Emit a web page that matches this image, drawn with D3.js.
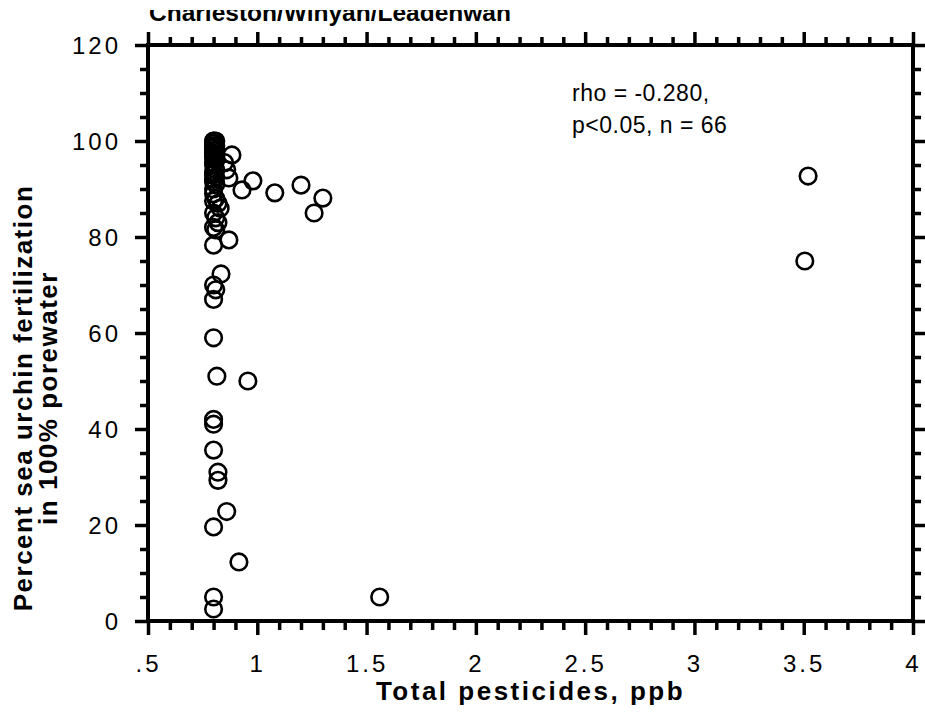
<!DOCTYPE html>
<html>
<head>
<meta charset="utf-8">
<script src="https://cdn.jsdelivr.net/npm/d3@7"></script>
<style>
  body { margin: 0; background: #fff; }
  svg text { font-family: "Liberation Sans", Arial, sans-serif; fill: #000; }
</style>
</head>
<body>
<div id="chart"></div>
<script>
// total pesticides (ppb) and percent fertilization, one entry per station
const pesticides = [
  0.80, 0.80, 0.81, 0.80, 0.81, 0.80, 0.80, 0.81, 0.80, 0.80,
  0.81, 0.80, 0.80, 0.81, 0.80, 0.80, 0.81, 0.80, 0.80, 0.81,
  0.80, 0.80, 0.81, 0.80, 0.80, 0.81, 0.80, 0.80, 0.81, 0.80,
  0.81, 0.80, 0.80, 0.81, 0.80, 0.80, 0.80, 0.80, 0.80, 0.80,
  0.80, 0.80, 0.884, 0.85, 0.86, 0.87, 0.98, 0.93, 1.08, 1.20,
  1.30, 1.26, 0.87, 0.83, 0.82, 0.834, 0.815, 0.957, 0.82, 0.82,
  0.86, 0.916, 1.56, 3.52, 3.505, 0.82
];
const fertilization = [
  100, 100, 100, 99.5, 99, 99, 98.5, 98, 98, 97.5,
  97, 97, 96.5, 96, 95.5, 95, 94, 93.5, 93, 92.5,
  92, 91.5, 91, 90, 89, 88, 87.5, 85, 84, 82,
  81.5, 78.3, 70, 69, 67, 59, 42, 41, 35.6, 19.6,
  5, 2.5, 97.1, 95.5, 94, 92.3, 91.7, 89.8, 89.2, 90.8,
  88.1, 85, 79.4, 86, 83, 72.3, 51, 50, 31, 29.3,
  22.8, 12.3, 5, 92.7, 75, 87
];

const xMajor = [0.5, 1, 1.5, 2, 2.5, 3, 3.5, 4];
const xTickLabels = [".5", "1", "1.5", "2", "2.5", "3", "3.5", "4"];
const yMajor = [0, 20, 40, 60, 80, 100, 120];
const yTickLabels = ["0", "20", "40", "60", "80", "100", "120"];

const title = "Charleston/Winyah/Leadenwah";
const xTitle = "Total pesticides, ppb";
const yTitle = ["Percent sea urchin fertilization", "in 100% porewater"];
const note = ["rho = -0.280,", "p<0.05, n = 66"];

const width = 925, height = 715;
const margin = { top: 45, right: 12, bottom: 94, left: 148 };
const plotW = width - margin.left - margin.right;
const plotH = height - margin.top - margin.bottom;

const svg = d3.select("#chart").append("svg")
  .attr("width", width)
  .attr("height", height);

const x = d3.scaleLinear().domain([0.5, 4]).range([margin.left, margin.left + plotW]);
const y = d3.scaleLinear().domain([0, 120]).range([margin.top + plotH, margin.top]);

const xMinor = d3.range(5, 41).map(d => d / 10).filter(d => !xMajor.some(m => Math.abs(m - d) < 1e-9));
const yMinor = d3.range(0, 121, 5).filter(d => d % 20 !== 0);

// ticks on all four sides, pointing outwards
function tickGroup(axis, transform) {
  const g = svg.append("g").attr("transform", transform).call(axis);
  g.select(".domain").remove();
  g.selectAll(".tick line").attr("stroke", "#000").attr("stroke-width", 3.5);
  return g;
}

tickGroup(d3.axisBottom(x).tickValues(xMinor).tickSize(9).tickFormat(""), `translate(0,${y(0)})`);
tickGroup(d3.axisTop(x).tickValues(xMinor).tickSize(8).tickFormat(""), `translate(0,${y(120)})`);
tickGroup(d3.axisLeft(y).tickValues(yMinor).tickSize(8).tickFormat(""), `translate(${x(0.5)},0)`);
tickGroup(d3.axisRight(y).tickValues(yMinor).tickSize(8).tickFormat(""), `translate(${x(4)},0)`);

const gx = tickGroup(d3.axisBottom(x).tickValues(xMajor).tickSize(14).tickPadding(20)
  .tickFormat((d, i) => xTickLabels[i]), `translate(0,${y(0)})`);
tickGroup(d3.axisTop(x).tickValues(xMajor).tickSize(13).tickFormat(""), `translate(0,${y(120)})`);
const gy = tickGroup(d3.axisLeft(y).tickValues(yMajor).tickSize(13).tickPadding(14)
  .tickFormat((d, i) => yTickLabels[i]), `translate(${x(0.5)},0)`);
tickGroup(d3.axisRight(y).tickValues(yMajor).tickSize(13).tickFormat(""), `translate(${x(4)},0)`);

[gx, gy].forEach(g => g.selectAll(".tick text")
  .style("font-size", "24px")
  .style("letter-spacing", "3px")
  .attr("fill", "#000"));
gy.selectAll(".tick text").attr("dy", "0.36em");

// frame
svg.append("rect")
  .attr("x", x(0.5)).attr("y", y(120))
  .attr("width", x(4) - x(0.5)).attr("height", y(0) - y(120))
  .attr("fill", "none").attr("stroke", "#000").attr("stroke-width", 4);

// points
svg.append("g").selectAll("circle")
  .data(d3.range(pesticides.length))
  .join("circle")
  .attr("cx", i => x(pesticides[i]))
  .attr("cy", i => y(fertilization[i]))
  .attr("r", 8.3)
  .attr("fill", "none")
  .attr("stroke", "#000")
  .attr("stroke-width", 2.6);

// annotation
svg.append("g").selectAll("text")
  .data(note)
  .join("text")
  .attr("x", 572)
  .attr("y", (d, i) => 101 + i * 32)
  .style("font-size", "23px")
  .style("letter-spacing", "0.5px")
  .text(d => d);

// title, cut off at the top like the source
svg.append("clipPath").attr("id", "titleClip")
  .append("rect").attr("x", 0).attr("y", 10).attr("width", width).attr("height", 30);
svg.append("text")
  .attr("clip-path", "url(#titleClip)")
  .attr("x", 149).attr("y", 21)
  .style("font-size", "24.5px")
  .style("font-weight", "bold")
  .text(title);

// axis titles
svg.append("text")
  .attr("x", x(0.5) + plotW / 2)
  .attr("y", 700)
  .attr("text-anchor", "middle")
  .style("font-size", "26px")
  .style("font-weight", "bold")
  .style("letter-spacing", "2.5px")
  .text(xTitle);

svg.append("g").selectAll("text")
  .data(yTitle)
  .join("text")
  .attr("transform", (d, i) => `translate(${32 + i * 25},398) rotate(-90)`)
  .attr("text-anchor", "middle")
  .style("font-size", "26px")
  .style("font-weight", "bold")
  .style("letter-spacing", "1.5px")
  .text(d => d);
</script>
</body>
</html>
